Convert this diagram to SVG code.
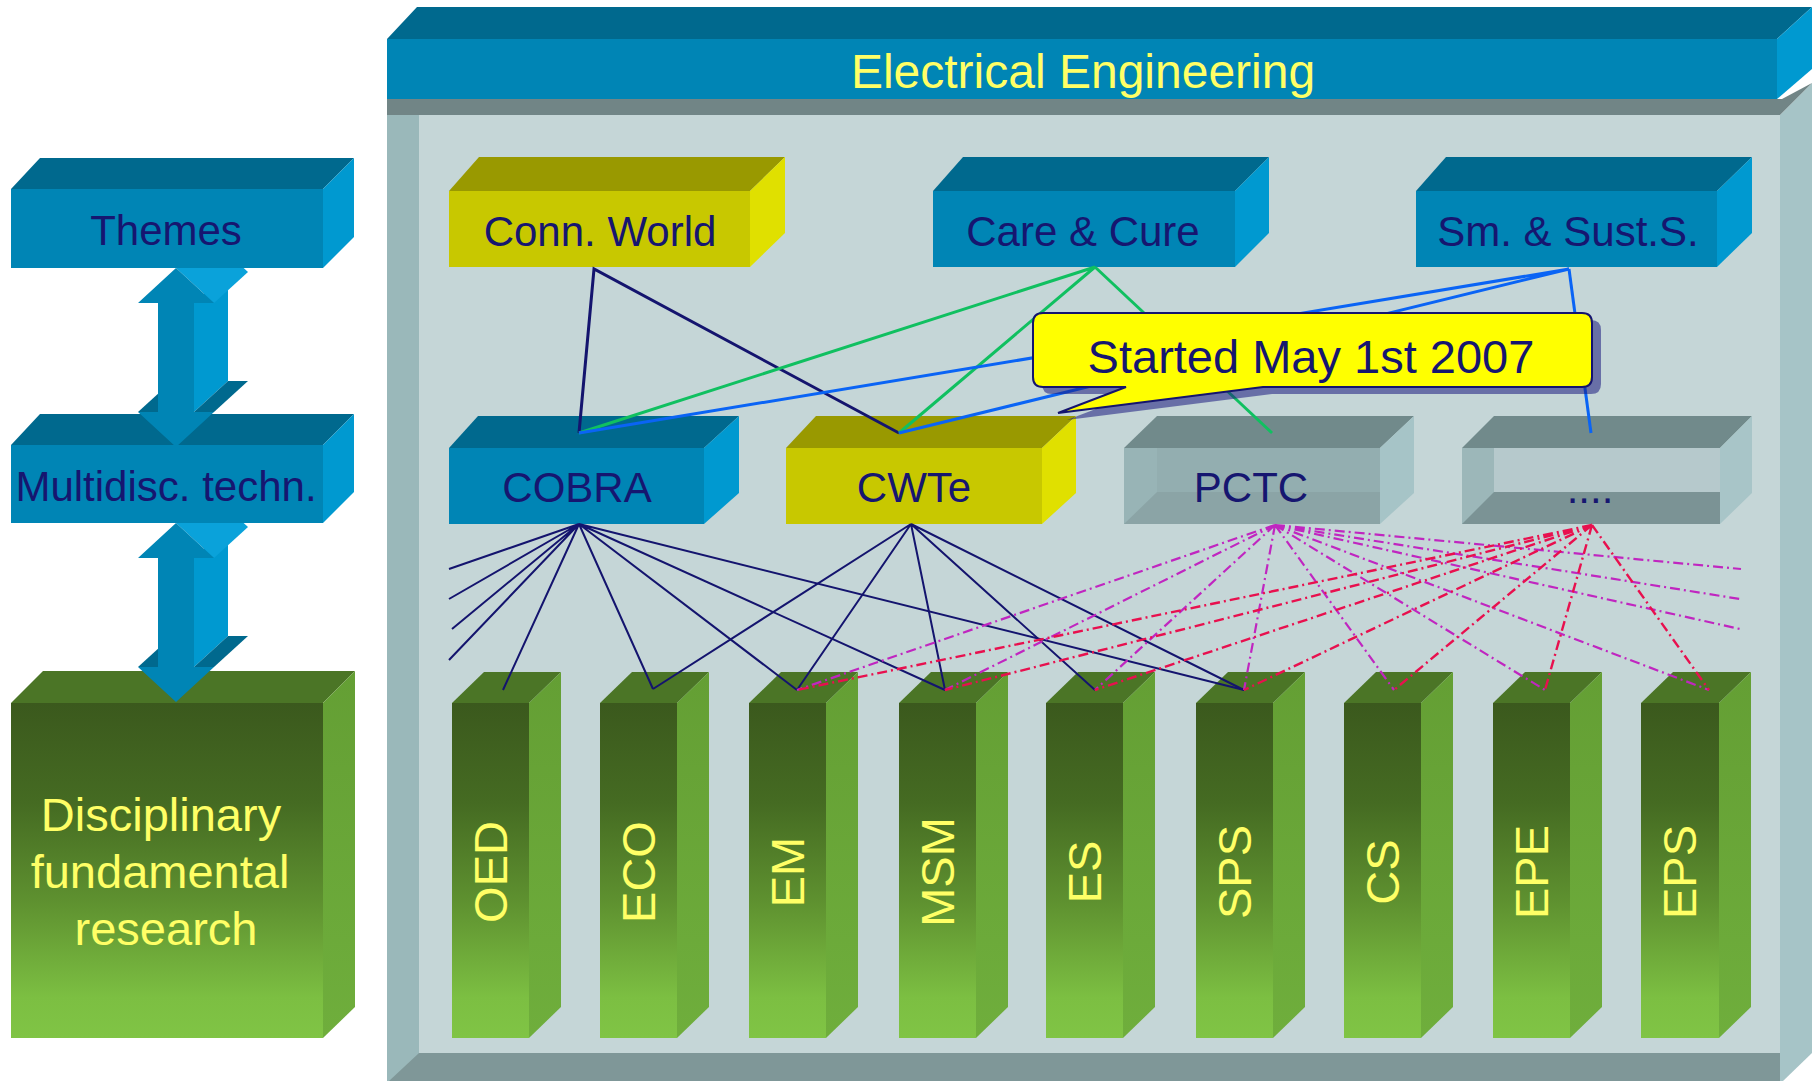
<svg xmlns="http://www.w3.org/2000/svg" width="1814" height="1081" viewBox="0 0 1814 1081">
<defs>
<style>
.t{font-family:"Liberation Sans",Arial,sans-serif;}
.navy{fill:#161670;}
.yel{fill:#ffff66;}
.bf{fill:#0085b5;}
.bt{fill:#00698e;}
.bs{fill:#0099d0;}
.yf{fill:#c8c800;}
.yt{fill:#999900;}
.ys{fill:#e0e000;}
.gt{fill:#4b7526;}
.cn{fill:none;stroke:#14146e;stroke-width:3;}
.cg{fill:none;stroke:#10c060;stroke-width:3;}
.cb{fill:none;stroke:#0a64f5;stroke-width:3;}
.ln{fill:none;stroke:#14146e;stroke-width:2;}
.mg{fill:none;stroke:#c026c0;stroke-width:2.2;stroke-dasharray:10 4 2 4;}
.rd{fill:none;stroke:#e8104e;stroke-width:2.4;stroke-dasharray:10 4 2 4;}
</style>
<linearGradient id="gfront" x1="0" y1="0" x2="0" y2="1">
<stop offset="0" stop-color="#3b591d"/>
<stop offset="0.3" stop-color="#456b22"/>
<stop offset="0.6" stop-color="#5f9230"/>
<stop offset="0.88" stop-color="#7cbf42"/>
<stop offset="1" stop-color="#80c445"/>
</linearGradient>
<linearGradient id="gside" x1="0" y1="0" x2="0" y2="1">
<stop offset="0" stop-color="#649f34"/>
<stop offset="1" stop-color="#6fae3c"/>
</linearGradient>
<g id="arrow">
<polygon class="bs" points="194,303 228,272 228,381 194,412"/>
<polygon fill="#0aa2da" points="176,268 210,237 248,272 214,303"/>
<polygon class="bt" points="138,412 158,412 192,381 172,381"/>
<polygon class="bt" points="194,412 214,412 248,381 228,381"/>
<polygon class="bf" points="176,268 214,303 194,303 194,412 214,412 176,447 138,412 158,412 158,303 138,303"/>
</g>
</defs>

<g id="frame">
<polygon fill="#a6c4c7" points="1780,115 1812,83 1812,1053 1783,1081 1780,1081"/>
<polygon fill="#718586" points="387,99 1782,99 1812,83 1780,115 387,115"/>
<rect x="387" y="115" width="32" height="966" fill="#9ab8ba"/>
<rect x="419" y="115" width="1361" height="938" fill="#c5d6d7"/>
<polygon fill="#7f9798" points="419,1053 1780,1053 1780,1081 389,1081"/>
</g>

<g id="electrical-engineering">
<polygon class="bt" points="387,39 417,7 1812,7 1777,39"/>
<polygon class="bs" points="1777,39 1812,7 1812,69 1777,99"/>
<rect class="bf" x="387" y="39" width="1390" height="60"/>
<text class="t" x="1083" y="88" font-size="48" text-anchor="middle" fill="#ffff66">Electrical Engineering</text>
</g>

<g id="disciplinary">
<polygon class="gt" points="11,703 43,671 355,671 323,703"/>
<polygon fill="url(#gside)" points="323,703 355,671 355,1007 323,1038"/>
<rect x="11" y="703" width="312" height="335" fill="url(#gfront)"/>
<text class="t yel" font-size="47" text-anchor="middle"><tspan x="161" y="831">Disciplinary</tspan><tspan x="160" y="888">fundamental</tspan><tspan x="166" y="945">research</tspan></text>
</g>

<g id="arrow-lower">
<use href="#arrow" transform="translate(0,255)"/>
</g>

<g id="multidisc">
<polygon class="bt" points="11,445 40,414 354,414 323,445"/>
<polygon class="bs" points="323,445 354,414 354,492 323,523"/>
<rect class="bf" x="11" y="445" width="312" height="78"/>
<text class="t navy" x="166" y="501" font-size="42" text-anchor="middle">Multidisc. techn.</text>
</g>

<g id="arrow-upper">
<use href="#arrow"/>
</g>

<g id="themes">
<polygon class="bt" points="11,189 40,158 354,158 323,189"/>
<polygon class="bs" points="323,189 354,158 354,237 323,268"/>
<rect class="bf" x="11" y="189" width="312" height="79"/>
<text class="t navy" x="166" y="245" font-size="42" text-anchor="middle">Themes</text>
</g>

<g id="conn-world">
<polygon class="yt" points="449,191 479,157 785,157 750,191"/>
<polygon class="ys" points="750,191 785,157 785,233 750,267"/>
<rect class="yf" x="449" y="191" width="301" height="76"/>
<text class="t navy" x="600" y="246" font-size="42" text-anchor="middle">Conn. World</text>
</g>

<g id="care-cure">
<polygon class="bt" points="933,191 963,157 1269,157 1235,191"/>
<polygon class="bs" points="1235,191 1269,157 1269,233 1235,267"/>
<rect class="bf" x="933" y="191" width="302" height="76"/>
<text class="t navy" x="1083" y="246" font-size="42" text-anchor="middle">Care &amp; Cure</text>
</g>

<g id="sm-sust">
<polygon class="bt" points="1416,191 1446,157 1752,157 1717,191"/>
<polygon class="bs" points="1717,191 1752,157 1752,233 1717,267"/>
<rect class="bf" x="1416" y="191" width="301" height="76"/>
<text class="t navy" x="1568" y="246" font-size="42" text-anchor="middle">Sm. &amp; Sust.S.</text>
</g>

<g id="cobra">
<polygon class="bt" points="449,448 478,416 739,416 704,448"/>
<polygon class="bs" points="704,448 739,416 739,493 704,524"/>
<rect class="bf" x="449" y="448" width="255" height="76"/>
<text class="t navy" x="577" y="502" font-size="42" text-anchor="middle">COBRA</text>
</g>

<g id="cwte">
<polygon class="yt" points="786,448 816,416 1076,416 1042,448"/>
<polygon class="ys" points="1042,448 1076,416 1076,493 1042,524"/>
<rect class="yf" x="786" y="448" width="256" height="76"/>
<text class="t navy" x="914" y="502" font-size="42" text-anchor="middle">CWTe</text>
</g>

<g id="pctc">
<polygon fill="#718a8b" points="1124,448 1157,416 1414,416 1380,448"/>
<polygon fill="#a6c4c7" points="1380,448 1414,416 1414,493 1380,524"/>
<rect x="1124" y="448" width="256" height="76" fill="#93aeb0"/>
<rect x="1124" y="448" width="33" height="76" fill="#98b4b6"/>
<polygon fill="#8ba4a6" points="1124,524 1157,492 1380,492 1380,524"/>
<text class="t navy" x="1251" y="502" font-size="42" text-anchor="middle">PCTC</text>
</g>

<g id="etc">
<polygon fill="#718a8b" points="1462,448 1494,416 1752,416 1720,448"/>
<polygon fill="#a8c5c8" points="1720,448 1752,416 1752,493 1720,524"/>
<rect x="1462" y="448" width="258" height="76" fill="#9cb7b9"/>
<rect x="1494" y="448" width="226" height="44" fill="#b6c9cc"/>
<polygon fill="#7b9395" points="1462,524 1494,492 1720,492 1720,524"/>
<text class="t navy" x="1590" y="503" font-size="42" text-anchor="middle">....</text>
</g>

<g id="bars">
<g id="bar-oed">
<polygon class="gt" points="452,703 484,672 561,672 529,703"/>
<polygon fill="url(#gside)" points="529,703 561,672 561,1007 529,1038"/>
<rect x="452" y="703" width="77" height="335" fill="url(#gfront)"/>
<text class="t yel" font-size="47" text-anchor="middle" transform="translate(507,872) rotate(-90)">OED</text>
</g>
<g id="bar-eco">
<polygon class="gt" points="600,703 632,672 709,672 677,703"/>
<polygon fill="url(#gside)" points="677,703 709,672 709,1007 677,1038"/>
<rect x="600" y="703" width="77" height="335" fill="url(#gfront)"/>
<text class="t yel" font-size="47" text-anchor="middle" transform="translate(655,872) rotate(-90)">ECO</text>
</g>
<g id="bar-em">
<polygon class="gt" points="749,703 781,672 858,672 826,703"/>
<polygon fill="url(#gside)" points="826,703 858,672 858,1007 826,1038"/>
<rect x="749" y="703" width="77" height="335" fill="url(#gfront)"/>
<text class="t yel" font-size="47" text-anchor="middle" transform="translate(804,872) rotate(-90)">EM</text>
</g>
<g id="bar-msm">
<polygon class="gt" points="899,703 931,672 1008,672 976,703"/>
<polygon fill="url(#gside)" points="976,703 1008,672 1008,1007 976,1038"/>
<rect x="899" y="703" width="77" height="335" fill="url(#gfront)"/>
<text class="t yel" font-size="47" text-anchor="middle" transform="translate(954,872) rotate(-90)">MSM</text>
</g>
<g id="bar-es">
<polygon class="gt" points="1046,703 1078,672 1155,672 1123,703"/>
<polygon fill="url(#gside)" points="1123,703 1155,672 1155,1007 1123,1038"/>
<rect x="1046" y="703" width="77" height="335" fill="url(#gfront)"/>
<text class="t yel" font-size="47" text-anchor="middle" transform="translate(1101,872) rotate(-90)">ES</text>
</g>
<g id="bar-sps">
<polygon class="gt" points="1196,703 1228,672 1305,672 1273,703"/>
<polygon fill="url(#gside)" points="1273,703 1305,672 1305,1007 1273,1038"/>
<rect x="1196" y="703" width="77" height="335" fill="url(#gfront)"/>
<text class="t yel" font-size="47" text-anchor="middle" transform="translate(1251,872) rotate(-90)">SPS</text>
</g>
<g id="bar-cs">
<polygon class="gt" points="1344,703 1376,672 1453,672 1421,703"/>
<polygon fill="url(#gside)" points="1421,703 1453,672 1453,1007 1421,1038"/>
<rect x="1344" y="703" width="77" height="335" fill="url(#gfront)"/>
<text class="t yel" font-size="47" text-anchor="middle" transform="translate(1399,872) rotate(-90)">CS</text>
</g>
<g id="bar-epe">
<polygon class="gt" points="1493,703 1525,672 1602,672 1570,703"/>
<polygon fill="url(#gside)" points="1570,703 1602,672 1602,1007 1570,1038"/>
<rect x="1493" y="703" width="77" height="335" fill="url(#gfront)"/>
<text class="t yel" font-size="47" text-anchor="middle" transform="translate(1548,872) rotate(-90)">EPE</text>
</g>
<g id="bar-eps">
<polygon class="gt" points="1641,703 1673,672 1751,672 1719,703"/>
<polygon fill="url(#gside)" points="1719,703 1751,672 1751,1007 1719,1038"/>
<rect x="1641" y="703" width="78" height="335" fill="url(#gfront)"/>
<text class="t yel" font-size="47" text-anchor="middle" transform="translate(1696,872) rotate(-90)">EPS</text>
</g>
</g>

<g id="connectors">
<polyline class="cn" points="579,433 594,269 899,433"/>
<polyline class="cg" points="579,433 1095,267 899,433"/>
<line class="cg" x1="1095" y1="267" x2="1272" y2="433"/>
<polyline class="cb" points="579,433 1569,269 899,433"/>
<line class="cb" x1="1569" y1="269" x2="1591" y2="433"/>

<path class="ln" d="M579,524 L449,569 M579,524 L449,599 M579,524 L452,629 M579,524 L449,660 M579,524 L503,690 M579,524 L653,689 M579,524 L797,690 M579,524 L945,690 M579,524 L1244,690"/>
<path class="ln" d="M911,524 L653,689 M911,524 L797,690 M911,524 L945,690 M911,524 L1095,690 M911,524 L1244,690"/>

<path class="mg" d="M1275,525 L797,690 M1275,525 L945,690 M1275,525 L1095,690 M1275,525 L1244,690 M1275,525 L1394,690 M1275,525 L1545,690 M1275,525 L1709,690 M1275,525 L1741,569 M1275,525 L1740,599 M1275,525 L1740,629"/>
<path class="rd" d="M1592,525 L797,690 M1592,525 L945,690 M1592,525 L1095,690 M1592,525 L1244,690 M1592,525 L1394,690 M1592,525 L1545,690 M1592,525 L1709,690"/>
</g>

<g id="callout">
<path fill="#1c1c80" opacity="0.55" transform="translate(9,7)" d="M1043,313 H1582 Q1592,313 1592,323 V377 Q1592,387 1582,387 H1263 L1058,413 L1126,387 H1043 Q1033,387 1033,377 V323 Q1033,313 1043,313 Z"/>
<path fill="#ffff00" stroke="#14146e" stroke-width="2" d="M1043,313 H1582 Q1592,313 1592,323 V377 Q1592,387 1582,387 H1263 L1058,413 L1126,387 H1043 Q1033,387 1033,377 V323 Q1033,313 1043,313 Z"/>
<text class="t navy" x="1311" y="373" font-size="47" text-anchor="middle">Started May 1st 2007</text>
</g>
</svg>
